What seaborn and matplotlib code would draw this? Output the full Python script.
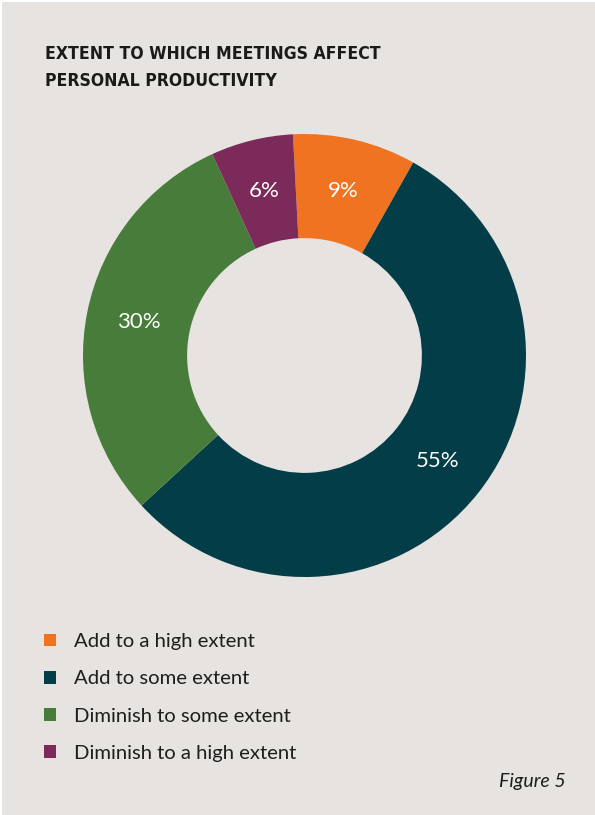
import matplotlib
matplotlib.use("Agg")
import matplotlib.pyplot as plt
import seaborn as sns

# Survey shares, clockwise from the top of the ring
categories = ["Add to a high extent", "Add to some extent",
              "Diminish to some extent", "Diminish to a high extent"]
shares = [9, 55, 30, 6]
colors = ["#F07322", "#023D48", "#487C3A", "#7B2A5A"]

title_lines = ["EXTENT TO WHICH MEETINGS AFFECT", "PERSONAL PRODUCTIVITY"]
caption = "Figure 5"

BG = "#E7E3E0"
W, H = 595, 815

sns.set_theme(style="white")
body = ["Lato", "DejaVu Sans"]
plt.rcParams["font.family"] = body

fig = plt.figure(figsize=(W / 100, H / 100), dpi=100, facecolor="white")

# panel background (thin light edge on top and left)
bg = fig.add_axes([2 / W, 0, 1 - 2 / W, 1 - 2 / H])
bg.set_facecolor(BG)
bg.set_xticks([]); bg.set_yticks([])
for s in bg.spines.values():
    s.set_visible(False)
bg.set_zorder(0)

def px(x, y):
    return x / W, 1 - y / H

# title
for i, line in enumerate(title_lines):
    fig.text(*px(45, 54 + 27 * i), line, family="DejaVu Sans",
             fontstretch="condensed", weight="bold",
             fontsize=12.6, color="#1a1a1a", va="center", ha="left")

# donut
cx, cy, r = 304.5, 355.5, 221.5
ax = fig.add_axes([(cx - r) / W, (H - cy - r) / H, 2 * r / W, 2 * r / H])
ax.set_zorder(1)
ax.patch.set_alpha(0)
wedges, _, autotexts = ax.pie(
    shares, colors=colors, startangle=93, counterclock=False, radius=1,
    wedgeprops=dict(width=0.47, edgecolor="none", linewidth=0),
    autopct=lambda p: f"{p:.0f}%", pctdistance=0.765,
    textprops=dict(color="white", fontsize=16, family=body))
ax.set_xlim(-1, 1); ax.set_ylim(-1, 1)
ax.set_aspect("equal")
ax.axis("off")

# legend
leg = fig.legend(wedges, categories, loc="upper left",
                 bbox_to_anchor=px(36, 625), frameon=False,
                 fontsize=14.6, handlelength=0.58, handleheight=0.58,
                 handletextpad=0.9, labelspacing=1.0, borderaxespad=0,
                 labelcolor="#1e1e1e")

fig.text(*px(566, 781), caption, style="italic", fontsize=14,
         color="#1e1e1e", ha="right", va="center")

fig.savefig("out.png", dpi=100, facecolor="white")
